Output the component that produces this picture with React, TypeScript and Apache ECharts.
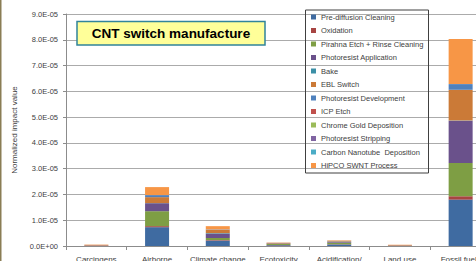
import React, { useEffect, useRef } from "react";
import * as echarts from "echarts";

// Values in units of 1E-05 (normalized impact value)
const categories = [
  "Carcingens",
  "Airborne\ninorganics",
  "Climate change",
  "Ecotoxicity",
  "Acidification/\nEutrophication",
  "Land use",
  "Fossil fuels",
];
const seriesNames = [
  "Pre-diffusion Cleaning",
  "Oxidation",
  "Pirahna Etch + Rinse Cleaning",
  "Photoresist Application",
  "Bake",
  "EBL Switch",
  "Photoresist Development",
  "ICP Etch",
  "Chrome Gold Deposition",
  "Photoresist Stripping",
  "Carbon Nanotube  Deposition",
  "HiPCO SWNT Process",
];
const preDiffusion = [0.01, 0.73, 0.21, 0.03, 0.06, 0.01, 1.8];
const oxidation = [0.015, 0.04, 0.02, 0.01, 0.01, 0.01, 0.13];
const pirahna = [0.0, 0.58, 0.08, 0.04, 0.06, 0.0, 1.29];
const prApplication = [0.0, 0.31, 0.17, 0.02, 0.03, 0.0, 1.64];
const bake = [0.0, 0.005, 0.02, 0.0, 0.01, 0.0, 0.01];
const eblSwitch = [0.02, 0.23, 0.12, 0.03, 0.02, 0.02, 1.19];
const prDevelopment = [0.0, 0.08, 0.02, 0.0, 0.01, 0.0, 0.22];
const icpEtch = [0, 0, 0, 0, 0, 0, 0];
const chromeGold = [0, 0, 0, 0, 0, 0, 0];
const prStripping = [0, 0, 0, 0, 0, 0, 0];
const cntDeposition = [0, 0, 0, 0, 0, 0, 0];
const hipco = [0.01, 0.31, 0.13, 0.0, 0.02, 0.01, 1.75];
const seriesValues = [
  preDiffusion, oxidation, pirahna, prApplication, bake, eblSwitch,
  prDevelopment, icpEtch, chromeGold, prStripping, cntDeposition, hipco,
];
const UNIT = 1e-5;
const colors = [
  "#3F6BA1", "#A74442", "#7E9E44", "#6A518B", "#3B8FA6", "#CB7A37",
  "#4F81BD", "#C0504D", "#9BBB59", "#8064A2", "#4BACC6", "#F79646",
];

function fmt(v: number): string {
  if (Math.abs(v) < 1e-12) return "0.0E+00";
  const [m, e] = v.toExponential(1).split("e");
  const exp = parseInt(e, 10);
  return m + "E" + (exp < 0 ? "-" : "+") + String(Math.abs(exp)).padStart(2, "0");
}

export default function App() {
  const ref = useRef<HTMLDivElement>(null);
  useEffect(() => {
    if (!ref.current) return;
    const chart = echarts.init(ref.current, undefined, { renderer: "svg" });
    const font = "'Liberation Sans', Arial, sans-serif";
    chart.setOption({
      animation: false,
      color: colors,
      textStyle: { fontFamily: font },
      grid: { left: 66, right: 9, top: 14, bottom: 15, outerBoundsMode: "none", containLabel: false },
      xAxis: {
        type: "category",
        data: categories,
        axisLine: { lineStyle: { color: "#8C8C8C", width: 1 } },
        axisTick: { show: true, length: 4, lineStyle: { color: "#8C8C8C" } },
        axisLabel: { interval: 0, fontSize: 8, color: "#404040", margin: 9, fontFamily: font },
      },
      yAxis: {
        type: "value",
        min: 0,
        max: 9 * UNIT,
        interval: 1 * UNIT,
        name: "Normalized impact value",
        nameLocation: "middle",
        nameGap: 35,
        nameTextStyle: { fontSize: 8, color: "#404040", fontFamily: font },
        axisLine: { show: true, lineStyle: { color: "#8C8C8C", width: 1 } },
        axisTick: { show: true, length: 3, lineStyle: { color: "#8C8C8C" } },
        splitLine: { lineStyle: { color: "#ABABAB", width: 1 } },
        axisLabel: { fontSize: 7.5, color: "#404040", margin: 8, formatter: fmt, fontFamily: font },
      },
      legend: {
        orient: "vertical",
        left: 311,
        top: 12,
        padding: 0,
        itemWidth: 5,
        itemHeight: 5,
        itemGap: 3.5,
        icon: "rect",
        textStyle: { fontSize: 7.5, lineHeight: 10, color: "#404040", fontFamily: font },
        data: seriesNames,
      },
      series: seriesNames.map((name, i) => ({
        name,
        type: "bar",
        stack: "total",
        barWidth: 24,
        data: seriesValues[i].map((v) => v * UNIT),
      })),
      graphic: [
        {
          type: "rect",
          shape: { x: 0, y: 0, width: 1.5, height: 261 },
          style: { fill: "#8A7D55" },
        },
        {
          type: "rect",
          shape: { x: 305.5, y: 10, width: 123, height: 163 },
          style: { fill: "none", stroke: "#404040", lineWidth: 1 },
          z: 10,
        },
        {
          type: "rect",
          shape: { x: 77, y: 21.5, width: 188, height: 23.5 },
          style: { fill: "#FFFF99", stroke: "#31849B", lineWidth: 1.5 },
          z: 10,
        },
        {
          type: "text",
          x: 171,
          y: 33.5,
          style: {
            text: "CNT switch manufacture",
            fontSize: 13.5,
            fontWeight: "bold",
            fontFamily: font,
            fill: "#000000",
            align: "center",
            verticalAlign: "middle",
          },
          z: 11,
        },
      ],
    });
    return () => chart.dispose();
  }, []);
  return (
    <div style={{ position: "fixed", left: 0, top: 0, width: 476, height: 261, overflow: "hidden", background: "#fff" }}>
      <div ref={ref} style={{ width: 500, height: 261 }} />
    </div>
  );
}
